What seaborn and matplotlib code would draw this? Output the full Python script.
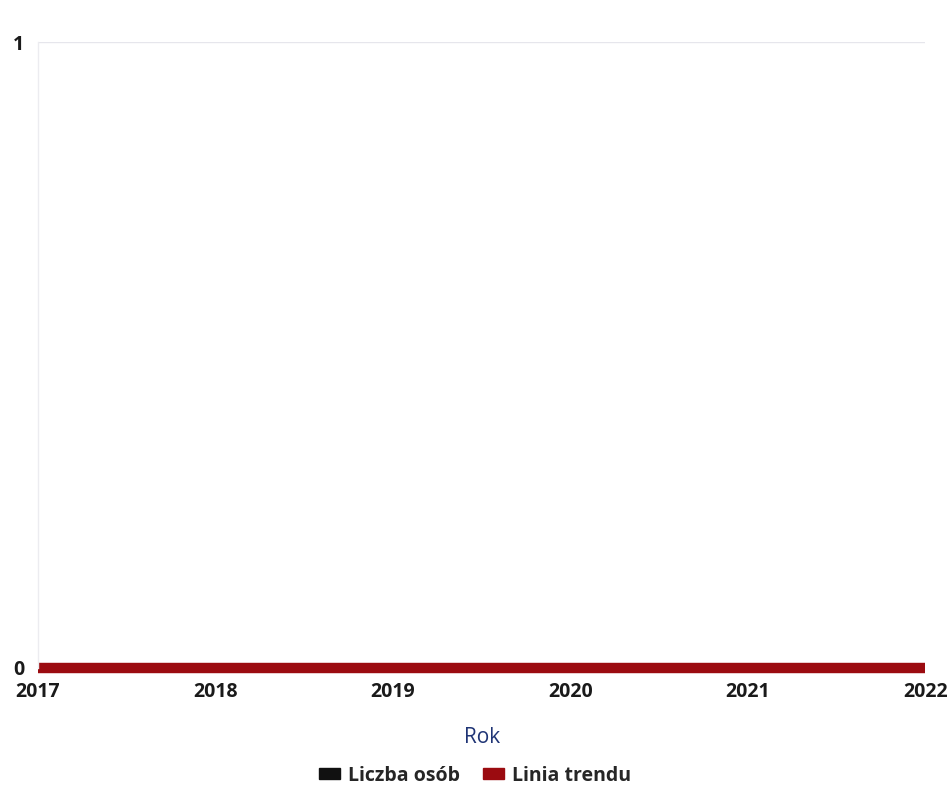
import matplotlib
matplotlib.use("Agg")
import matplotlib.pyplot as plt
from matplotlib.patches import Patch
import seaborn as sns
import pandas as pd

# data
years = [2017, 2018, 2019, 2020, 2021, 2022]
liczba_osob = [0, 0, 0, 0, 0, 0]
linia_trendu = [0, 0, 0, 0, 0, 0]

series_names = ["Liczba osób", "Linia trendu"]
series_colors = ["#111111", "#9b0b10"]

df = pd.DataFrame({
    "Rok": years * 2,
    "value": liczba_osob + linia_trendu,
    "series": [series_names[0]] * len(years) + [series_names[1]] * len(years),
})

sns.set_style("white")
plt.rcParams["font.family"] = ["Open Sans", "DejaVu Sans"]

fig = plt.figure(figsize=(9.5, 7.94), dpi=100)
ax = fig.add_axes([0.040, 0.159, 0.934, 0.788])

# black series sits underneath the thick trend line
sns.lineplot(data=df[df.series == series_names[0]], x="Rok", y="value",
             color=series_colors[0], linewidth=3, ax=ax, legend=False,
             solid_capstyle="butt", clip_on=False)
sns.lineplot(data=df[df.series == series_names[1]], x="Rok", y="value",
             color=series_colors[1], linewidth=7.5, ax=ax, legend=False,
             solid_capstyle="butt", clip_on=False)

ax.set_xlim(years[0], years[-1])
ax.set_ylim(0, 1)
ax.set_xticks(years)
ax.set_xticklabels([str(y) for y in years], fontsize=14, fontweight="bold", color="#1a1a1a")
ax.set_yticks([0, 1])
ax.set_yticklabels(["0", "1"], fontsize=14, fontweight="bold", color="#1a1a1a")
ax.tick_params(axis="both", length=0)
ax.tick_params(axis="x", pad=10)
ax.tick_params(axis="y", pad=10)

ax.axhline(1, color="#e6e6ec", linewidth=1, zorder=0)
for side in ["top", "right", "bottom"]:
    ax.spines[side].set_visible(False)
ax.spines["left"].set_color("#ececf0")
ax.spines["left"].set_linewidth(1)

ax.set_xlabel("Rok", fontsize=15, color="#1f3475", labelpad=18)
ax.set_ylabel("")

handles = [Patch(facecolor=c, edgecolor=c) for c in series_colors]
fig.legend(handles, series_names, loc="center", bbox_to_anchor=(0.5, 0.023),
           ncol=2, frameon=False, handlelength=1.1, handleheight=0.5,
           handletextpad=0.4, columnspacing=1.2,
           prop={"size": 14, "weight": "bold"})

fig.savefig("out.png", dpi=100)
